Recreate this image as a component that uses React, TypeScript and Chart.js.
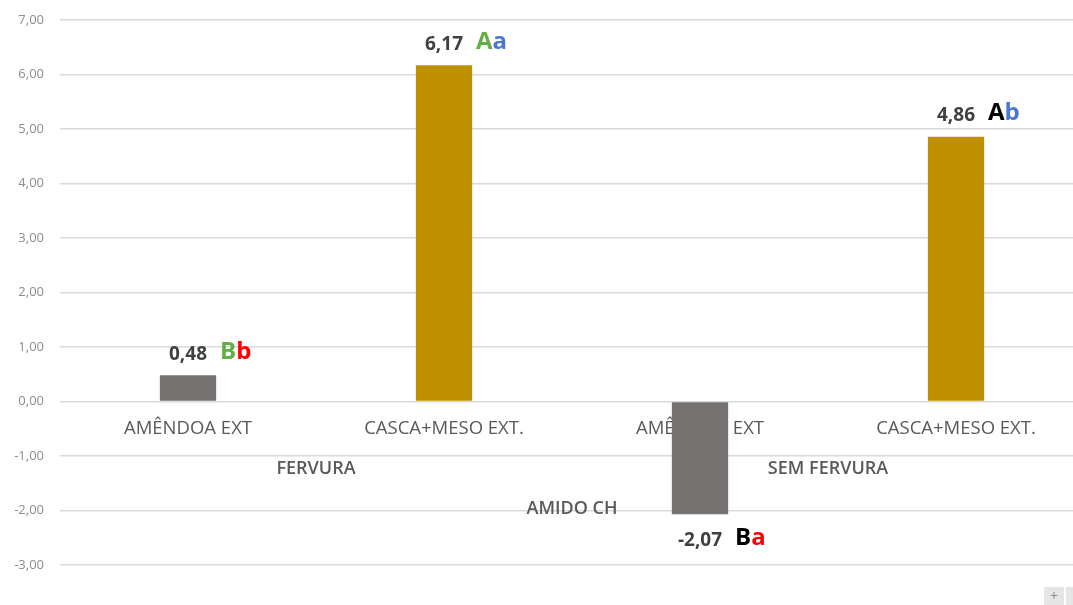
import React, { useEffect, useRef } from "react";
import { Chart, registerables } from "chart.js";

Chart.register(...registerables);

const categories = ["AMÊNDOA EXT", "CASCA+MESO EXT.", "AMÊNDOA EXT", "CASCA+MESO EXT."];
const groupLabels = ["FERVURA", "SEM FERVURA"];
const topLabel = "AMIDO CH";
const values = [0.48, 6.17, -2.07, 4.86];
const upperLetters = ["B", "A", "B", "A"];
const lowerLetters = ["b", "a", "a", "b"];
const yMin = -3;
const yMax = 7;

const GREEN = "#62b045";
const RED = "#ff0000";
const BLUE = "#4a78d0";
const BLACK = "#000000";
const upperColors = [GREEN, GREEN, BLACK, BLACK];
const lowerColors = [RED, BLUE, RED, BLUE];
const barColors = ["#767171", "#BF9000", "#767171", "#BF9000"];

const FONT = "'Open Sans', 'DejaVu Sans', sans-serif";

const fmt = (v: number) => v.toFixed(2).replace(".", ",");

const labelPlugin = {
  id: "customLabels",
  beforeDatasetsDraw(chart: any) {
    const ctx = chart.ctx;
    const x = chart.scales.x;
    const y = chart.scales.y;
    const y0 = y.getPixelForValue(0);
    ctx.save();
    ctx.textAlign = "center";
    ctx.textBaseline = "middle";
    ctx.fillStyle = "#595959";
    ctx.font = `18.5px ${FONT}`;
    categories.forEach((c, i) => {
      ctx.fillText(c, x.getPixelForValue(i), y0 + 27);
    });
    ctx.font = `600 18px ${FONT}`;
    groupLabels.forEach((g, gi) => {
      const cx = (x.getPixelForValue(gi * 2) + x.getPixelForValue(gi * 2 + 1)) / 2;
      ctx.fillText(g, cx, y0 + 67);
    });
    const cxAll = (x.getPixelForValue(0) + x.getPixelForValue(categories.length - 1)) / 2;
    ctx.fillText(topLabel, cxAll, y0 + 107);
    ctx.restore();
  },
  afterDatasetsDraw(chart: any) {
    const ctx = chart.ctx;
    const x = chart.scales.x;
    const y = chart.scales.y;
    ctx.save();
    ctx.textBaseline = "middle";
    values.forEach((v, i) => {
      const cx = x.getPixelForValue(i);
      const yv = y.getPixelForValue(v);
      const ly = v >= 0 ? yv - 21 : yv + 26;
      const txt = fmt(v);
      ctx.font = `bold 19px ${FONT}`;
      ctx.fillStyle = "#404040";
      ctx.textAlign = "center";
      ctx.fillText(txt, cx, ly);
      const w = ctx.measureText(txt).width;
      let lx = cx + w / 2 + 13;
      ctx.textAlign = "left";
      ctx.font = `bold 24px ${FONT}`;
      ctx.fillStyle = upperColors[i];
      ctx.fillText(upperLetters[i], lx, ly - 2);
      lx += ctx.measureText(upperLetters[i]).width;
      ctx.fillStyle = lowerColors[i];
      ctx.fillText(lowerLetters[i], lx, ly - 2);
    });
    // small corner button
    ctx.fillStyle = "#e6e6e6";
    ctx.fillRect(1044, 587, 20, 18);
    ctx.fillRect(1066, 587, 10, 18);
    ctx.fillStyle = "#8a8a8a";
    ctx.font = `14px ${FONT}`;
    ctx.textAlign = "center";
    ctx.fillText("+", 1054, 597);
    ctx.restore();
  },
};

export default function App() {
  const ref = useRef<HTMLCanvasElement | null>(null);
  useEffect(() => {
    if (!ref.current) return;
    const chart = new Chart(ref.current, {
      type: "bar",
      data: {
        labels: categories,
        datasets: [
          {
            data: values,
            backgroundColor: barColors,
            barPercentage: 0.22,
            categoryPercentage: 1,
          },
        ],
      },
      options: {
        animation: false,
        responsive: false,
        maintainAspectRatio: false,
        layout: { padding: { top: 20, bottom: 40, left: 0, right: 16 } },
        plugins: { legend: { display: false }, tooltip: { enabled: false } },
        scales: {
          x: { display: false },
          y: {
            min: yMin,
            max: yMax,
            border: { display: false },
            grid: { color: "#d9d9d9", lineWidth: 1.5, drawTicks: false },
            ticks: {
              stepSize: 1,
              padding: 16,
              color: "#8c8c8c",
              font: { size: 13, family: FONT },
              callback: (v: any) => fmt(Number(v)),
            },
            afterFit: (s: any) => {
              s.width = 60;
              s.paddingTop = 0;
              s.paddingBottom = 0;
            },
          },
        },
      },
      plugins: [labelPlugin],
    });
    return () => chart.destroy();
  }, []);
  return (
    <div style={{ position: "fixed", left: 0, top: 0, width: 1073, height: 605, overflow: "hidden", background: "#fff" }}>
      <canvas ref={ref} width={1100} height={605} style={{ display: "block" }} />
    </div>
  );
}
